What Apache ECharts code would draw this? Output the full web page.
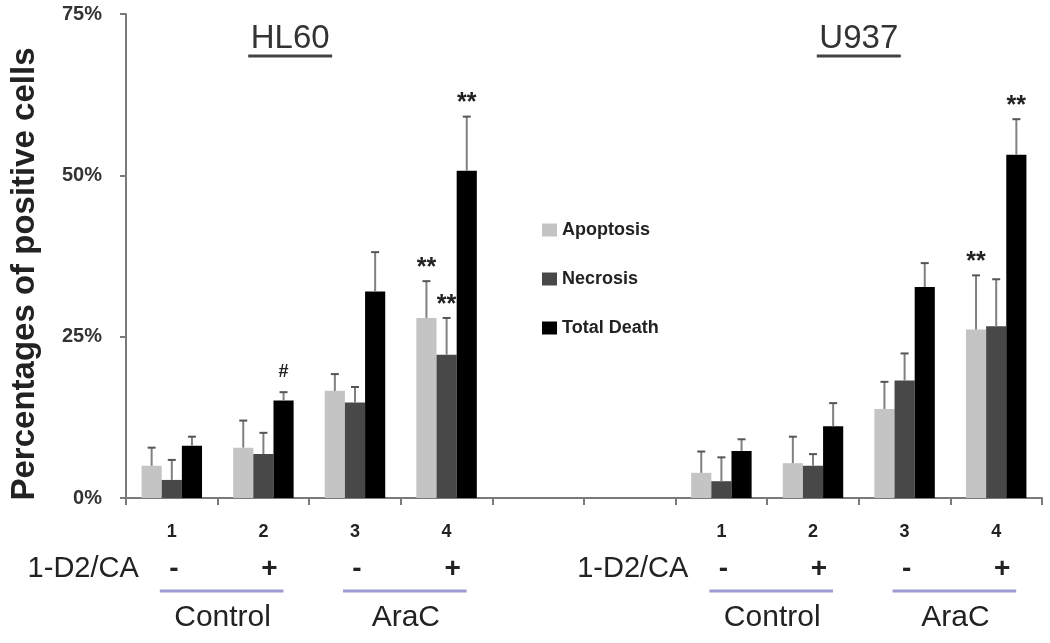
<!DOCTYPE html>
<html><head><meta charset="utf-8">
<script src="https://cdn.jsdelivr.net/npm/echarts@6/dist/echarts.min.js"></script>
<style>html,body{margin:0;padding:0;background:#fff}#c{width:1050px;height:643px}</style>
</head><body><div id="c"></div>
<script>
// ---- data ----
const categories = ['HL60-1','HL60-2','HL60-3','HL60-4','gap-1','gap-2','U937-1','U937-2','U937-3','U937-4'];
const groupNumbers = ['1','2','3','4'];
const treatmentSigns = ['-','+','-','+'];
const treatmentName = '1-D2/CA';
const groupNames = ['Control','AraC'];
const panelNames = ['HL60','U937'];
const panelStart = [0, 6];
const seriesNames = ['Apoptosis','Necrosis','Total Death'];
const apoptosis    = [5.0, 7.8, 16.6, 27.9, null, null, 3.9, 5.4, 13.8, 26.1];
const necrosis     = [2.8, 6.8, 14.8, 22.2, null, null, 2.6, 5.0, 18.2, 26.6];
const totalDeath   = [8.1, 15.1, 32.0, 50.7, null, null, 7.3, 11.1, 32.7, 53.2];
const apoptosisErr = [2.8, 4.2, 2.6, 5.7, null, null, 3.3, 4.1, 4.2, 8.4];
const necrosisErr  = [3.1, 3.3, 2.4, 5.7, null, null, 3.7, 1.8, 4.2, 7.3];
const totalErr     = [1.4, 1.3, 6.1, 8.4, null, null, 1.8, 3.6, 3.7, 5.5];
const apoptosisSig = ['', '', '', '**', '', '', '', '', '', '**'];
const necrosisSig  = ['', '', '', '**', '', '', '', '', '', ''];
const totalSig     = ['', '#', '', '**', '', '', '', '', '', '**'];
const yTicks = [0, 25, 50, 75];

// ---- style ----
const colors = ['#c4c4c4', '#484848', '#000000'];
const CAT_GAP = 0.34;
const values = [apoptosis, necrosis, totalDeath];
const errs = [apoptosisErr, necrosisErr, totalErr];
const sigs = [apoptosisSig, necrosisSig, totalSig];
const baseFont = '"Liberation Sans", Arial, sans-serif';

const chart = echarts.init(document.getElementById('c'), null, {renderer: 'canvas'});

function errSeries(s) {
  const data = [];
  values[s].forEach((v, i) => { if (v != null) data.push([i, v, errs[s][i]]); });
  return {
    type: 'custom', name: seriesNames[s] + ' err', z: 5, silent: true,
    data: data, encode: {x: 0, y: 1},
    renderItem: function (params, api) {
      const idx = api.value(0), v = api.value(1), e = api.value(2);
      const base = api.coord([idx, v]);
      const top = api.coord([idx, v + e]);
      const band = api.size([1, 0])[0];
      const gw = band * (1 - CAT_GAP);
      const bw = gw / 3;
      const x = base[0] - gw / 2 + bw * (s + 0.5);
      const children = [
        {type: 'line', shape: {x1: x, y1: base[1], x2: x, y2: top[1]}, style: {stroke: '#808080', lineWidth: 2}},
        {type: 'line', shape: {x1: x - 4, y1: top[1], x2: x + 4, y2: top[1]}, style: {stroke: '#555', lineWidth: 2}}
      ];
      const sg = sigs[s][idx];
      if (sg) {
        children.push({type: 'text', style: {text: sg, x: x, y: top[1] - (sg === '#' ? 20 : 13), align: 'center', verticalAlign: 'middle',
          font: 'bold ' + (sg === '#' ? 18 : 25) + 'px ' + baseFont, fill: '#222'}});
      }
      return {type: 'group', children: children};
    }
  };
}

const barSeries = seriesNames.map((n, s) => ({
  type: 'bar', name: n, data: values[s], barGap: '0%', barCategoryGap: (CAT_GAP * 100) + '%',
  itemStyle: {color: colors[s]}, z: 3
}));

chart.setOption({
  animation: false,
  grid: {left: 126, right: 8, top: 14, bottom: 145, containLabel: false},
  legend: {
    data: seriesNames, orient: 'vertical', left: 537, top: 216, itemWidth: 15, itemHeight: 13, itemGap: 31,
    icon: 'rect', textStyle: {fontSize: 18, fontWeight: 'bold', color: '#222', fontFamily: baseFont}
  },
  xAxis: {
    type: 'category', data: categories, boundaryGap: true,
    axisLine: {lineStyle: {color: '#7a7a7a', width: 2}},
    axisTick: {show: true, alignWithLabel: false, length: 7, lineStyle: {color: '#7a7a7a', width: 2}},
    axisLabel: {show: false}
  },
  yAxis: {
    type: 'value', min: yTicks[0], max: yTicks[yTicks.length - 1], interval: 25,
    axisLine: {show: true, lineStyle: {color: '#7a7a7a', width: 2}},
    axisTick: {show: true, length: 6, lineStyle: {color: '#7a7a7a', width: 2}},
    splitLine: {show: false},
    axisLabel: {formatter: '{value}%', margin: 24, fontSize: 20, fontWeight: 'bold', color: '#333', fontFamily: baseFont}
  },
  series: barSeries.concat([0, 1, 2].map(errSeries))
});

// ---- annotations positioned from the axis ----
function cx(i) { return chart.convertToPixel({xAxisIndex: 0}, i); }
const g = [];
g.push({type: 'text', rotation: Math.PI / 2, x: 25, y: 274,
  style: {text: 'Percentages of positive cells', align: 'center', verticalAlign: 'middle', font: 'bold 33px ' + baseFont, fill: '#222'}});
const titleOffset = [-19, 0];
panelNames.forEach((name, p) => {
  const st = panelStart[p];
  const mid = (cx(st) + cx(st + 3)) / 2 + titleOffset[p];
  g.push({type: 'text', x: mid, y: 39, style: {text: name, align: 'center', verticalAlign: 'middle', font: '33px ' + baseFont, fill: '#333'}});
  g.push({type: 'line', shape: {x1: mid - 42, y1: 56, x2: mid + 42, y2: 56}, style: {stroke: '#444', lineWidth: 3}});
  g.push({type: 'text', x: cx(st) - 33, y: 569, style: {text: treatmentName, align: 'right', verticalAlign: 'middle', font: '29px ' + baseFont, fill: '#222'}});
  groupNumbers.forEach((num, k) => {
    const x = cx(st + k);
    g.push({type: 'text', x: x, y: 532, style: {text: num, align: 'center', verticalAlign: 'middle', font: 'bold 18px ' + baseFont, fill: '#222'}});
    g.push({type: 'text', x: x + (treatmentSigns[k] === '+' ? 6 : 2), y: 569, style: {text: treatmentSigns[k], align: 'center', verticalAlign: 'middle', font: 'bold 28px ' + baseFont, fill: '#222'}});
  });
  groupNames.forEach((gn, k) => {
    const a = cx(st + 2 * k), b = cx(st + 2 * k + 1);
    g.push({type: 'line', shape: {x1: a - 12, y1: 591, x2: b + 20, y2: 591}, style: {stroke: '#9d9bd1', lineWidth: 3}});
    g.push({type: 'text', x: (a + b) / 2 + 5, y: 618, style: {text: gn, align: 'center', verticalAlign: 'middle', font: '30px ' + baseFont, fill: '#222'}});
  });
});
chart.setOption({graphic: g});
</script>
</body></html>
